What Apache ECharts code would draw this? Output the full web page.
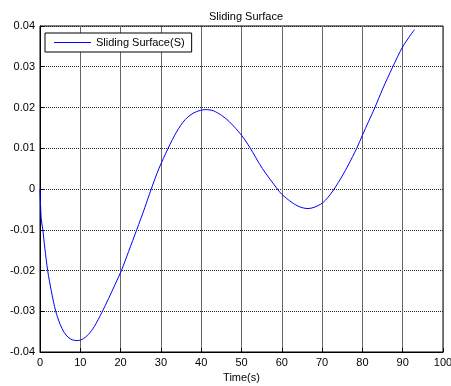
<!DOCTYPE html>
<html>
<head>
<meta charset="utf-8">
<script src="https://cdn.jsdelivr.net/npm/echarts@6/dist/echarts.min.js"></script>
<style>
  html, body { margin: 0; padding: 0; background: #fff; }
  #chart { width: 451px; height: 386px; }
</style>
</head>
<body>
<div id="chart"></div>
<script>
// Sliding surface S(t) sampled over the simulation time
const timeSec = [0, 0.3, 0.7, 1.2, 1.9, 2.8, 3.9, 5, 6, 7, 8, 9.2, 10.5, 12, 13.5, 15.4, 17, 18.6, 20.2, 22, 24, 26, 27.6, 29.5, 31.8, 34, 36, 38, 39.8, 41.3, 43, 45, 47, 50, 52, 55.2, 58.9, 60, 62.5, 64.5, 66.5, 68, 70, 71.5, 73, 75, 76.5, 78.6, 80, 81.5, 83.1, 85, 87.5, 90, 92.9];
const surfaceS = [0, -0.0072, -0.0100, -0.0145, -0.0200, -0.0250, -0.0300, -0.0332, -0.0352, -0.0364, -0.0370, -0.0372, -0.0369, -0.0357, -0.0337, -0.0302, -0.0269, -0.0235, -0.0200, -0.0153, -0.0100, -0.0046, 0.0000, 0.0050, 0.0100, 0.0142, 0.0170, 0.0186, 0.0193, 0.0195, 0.0192, 0.0181, 0.0165, 0.0132, 0.0103, 0.0050, 0.0000, -0.0013, -0.0033, -0.0044, -0.0048, -0.0045, -0.0035, -0.0020, 0.0000, 0.0032, 0.0059, 0.0100, 0.0132, 0.0165, 0.0200, 0.0245, 0.0299, 0.0349, 0.0391];

const seriesName = 'Sliding Surface(S)';
const chartTitle = 'Sliding Surface';
const xAxisName = 'Time(s)';

const points = timeSec.map((t, i) => [t, surfaceS[i]]);
const font = '"Liberation Sans", Arial, sans-serif';

const chart = echarts.init(document.getElementById('chart'), null, { renderer: 'canvas' });
chart.setOption({
  animation: false,
  backgroundColor: '#ffffff',
  title: {
    text: chartTitle,
    left: 241,
    top: 6,
    textAlign: 'center',
    textStyle: { fontFamily: font, fontSize: 11, fontWeight: 'normal', color: '#000' }
  },
  legend: {
    data: [seriesName],
    left: 45,
    top: 33,
    orient: 'vertical',
    icon: 'rect',
    itemWidth: 37,
    itemHeight: 1.2,
    itemGap: 0,
    padding: [4, 7, 4, 9],
    borderColor: '#000',
    borderWidth: 1,
    backgroundColor: '#fff',
    textStyle: { fontFamily: font, fontSize: 11, color: '#000' }
  },
  grid: {
    left: 40,
    right: 8,
    top: 26,
    bottom: 34,
    show: true,
    borderColor: '#000',
    borderWidth: 1,
    outerBoundsMode: 'none',
    containLabel: false
  },
  xAxis: {
    type: 'value',
    min: 0,
    max: 100,
    interval: 10,
    name: xAxisName,
    nameLocation: 'middle',
    nameGap: 19,
    nameTextStyle: { fontFamily: font, fontSize: 11, color: '#000' },
    axisLine: { onZero: false, lineStyle: { color: '#000', width: 1 } },
    axisTick: { inside: true, length: 4, lineStyle: { color: '#000' } },
    axisLabel: { fontFamily: font, fontSize: 11, color: '#000', margin: 5 },
    splitLine: { show: true, lineStyle: { color: '#666', width: 1, type: 'solid' } }
  },
  yAxis: {
    type: 'value',
    min: -0.04,
    max: 0.04,
    interval: 0.01,
    axisLine: { onZero: false, lineStyle: { color: '#000', width: 1 } },
    axisTick: { inside: true, length: 4, lineStyle: { color: '#000' } },
    axisLabel: { fontFamily: font, fontSize: 11, color: '#000', margin: 5 },
    splitLine: { show: true, lineStyle: { color: '#222', width: 1, type: [1, 1] } }
  },
  series: [{
    name: seriesName,
    type: 'line',
    data: points,
    smooth: 0.3,
    showSymbol: false,
    symbol: 'none',
    lineStyle: { color: '#0000ff', width: 1 },
    itemStyle: { color: '#0000ff' }
  }]
});
</script>
</body>
</html>
